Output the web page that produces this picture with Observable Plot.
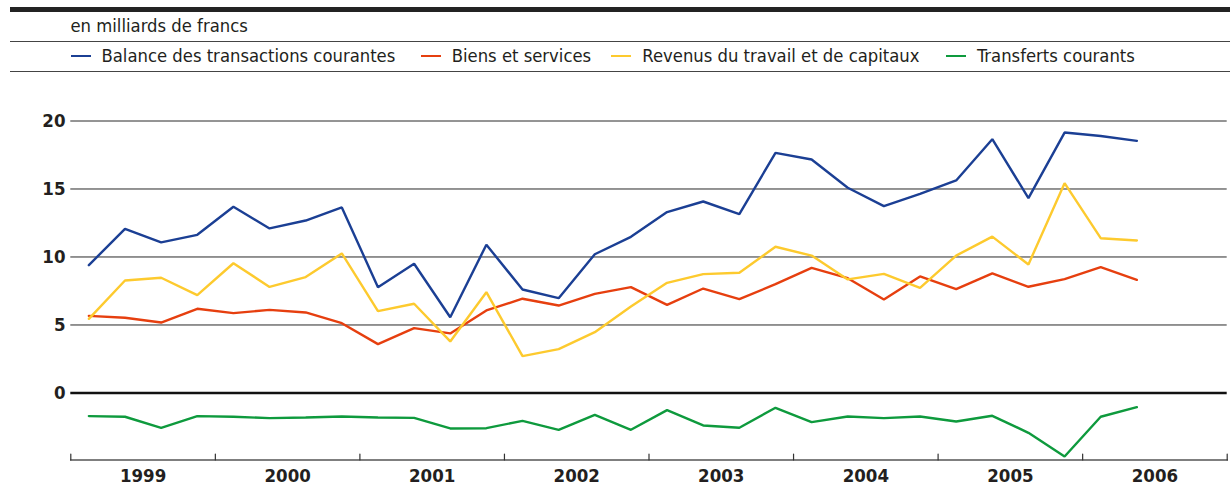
<!DOCTYPE html>
<html>
<head>
<meta charset="utf-8">
<script src="https://cdn.jsdelivr.net/npm/d3@7"></script>
<script src="https://cdn.jsdelivr.net/npm/@observablehq/plot@0.6"></script>
<style>
  html, body { margin: 0; padding: 0; background: #fff; }
  body { width: 1230px; height: 486px; overflow: hidden; font-family: "DejaVu Sans Condensed", "DejaVu Sans", sans-serif; color: #231f20; }
  #header { position: relative; height: 80px; }
  .bar { position: absolute; left: 10px; right: 0; top: 7px; height: 4.5px; background: #232323; }
  .hr { position: absolute; left: 10px; right: 0; height: 1.3px; background: #444; }
  .unit { position: absolute; left: 70.5px; top: 14.5px; font-size: 18.3px; line-height: 22px; }
  .leg { position: absolute; top: 44.5px; font-size: 18.3px; line-height: 22px; white-space: nowrap; }
  .sw { position: absolute; top: 54.8px; width: 20px; height: 2.2px; }
  #chart svg { display: block; }
</style>
</head>
<body>
<div id="header">
  <div class="bar"></div>
  <div class="unit">en milliards de francs</div>
  <div class="hr" style="top:40.5px"></div>
  <div id="legend"></div>
  <div class="hr" style="top:70.5px"></div>
</div>
<div id="chart"></div>
<script>
// Series names and colours
const seriesNames = [
  "Balance des transactions courantes",
  "Biens et services",
  "Revenus du travail et de capitaux",
  "Transferts courants"
];
const seriesColors = ["#1b3f94", "#e63f0f", "#fdca2e", "#0e9a3d"];

// Quarterly data, 1999 T1 to 2006 T2
const startYear = 1999;
const years = [1999, 2000, 2001, 2002, 2003, 2004, 2005, 2006];
const yTicks = [0, 5, 10, 15, 20];

const balance = [
  9.4, 12.07, 11.07, 11.63,
  13.69, 12.1, 12.68, 13.64,
  7.78, 9.5, 5.57, 10.9,
  7.61, 6.97, 10.2, 11.48,
  13.3, 14.08, 13.15, 17.66,
  17.17, 15.09, 13.74, 14.64,
  15.63, 18.66, 14.33, 19.15,
  18.9, 18.54
];
const biens = [
  5.67, 5.53, 5.18, 6.19,
  5.87, 6.11, 5.92, 5.13,
  3.59, 4.77, 4.38, 6.07,
  6.93, 6.43, 7.29, 7.78,
  6.48, 7.68, 6.9, 8.0,
  9.2, 8.44, 6.87, 8.57,
  7.63, 8.79, 7.81, 8.37,
  9.25, 8.32
];
const revenus = [
  5.45, 8.27, 8.47, 7.19,
  9.54, 7.8, 8.52, 10.26,
  6.02, 6.56, 3.79, 7.41,
  2.71, 3.22, 4.47, 6.36,
  8.1, 8.74, 8.84, 10.75,
  10.1, 8.35, 8.76, 7.73,
  10.1, 11.5, 9.45, 15.43,
  11.38, 11.21
];
const transferts = [
  -1.7, -1.75, -2.56, -1.7,
  -1.75, -1.85, -1.8, -1.73,
  -1.8, -1.83, -2.61, -2.59,
  -2.05, -2.71, -1.61, -2.71,
  -1.26, -2.39, -2.56, -1.09,
  -2.14, -1.73, -1.85, -1.73,
  -2.1, -1.68, -2.93, -4.67,
  -1.75, -1.04
];

const seriesValues = [balance, biens, revenus, transferts];

// Long table built from the arrays
const data = [];
seriesValues.forEach((vals, s) => {
  vals.forEach((v, i) => {
    data.push({
      series: seriesNames[s],
      t: startYear + Math.floor(i / 4) + ((i % 4) + 0.5) / 4,
      value: v
    });
  });
});

// Legend (HTML, above the SVG)
const legendX = [70.5, 420.7, 611.3, 946];
const legend = document.getElementById("legend");
seriesNames.forEach((name, i) => {
  const sw = document.createElement("div");
  sw.className = "sw";
  sw.style.left = legendX[i] + "px";
  sw.style.background = seriesColors[i];
  legend.appendChild(sw);
  const t = document.createElement("div");
  t.className = "leg";
  t.style.left = (legendX[i] + 31) + "px";
  t.textContent = name;
  legend.appendChild(t);
});

const yearTicks = years.concat([years[years.length - 1] + 1]);
const tickShape = {draw(context, l) { context.moveTo(0, 0); context.lineTo(0, -l); }};
const font = "DejaVu Sans Condensed, DejaVu Sans, sans-serif";

const chart = Plot.plot({
  width: 1230,
  height: 406,
  marginLeft: 70.3,
  marginRight: 3.3,
  marginTop: 40.5,
  marginBottom: 26.5,
  x: {domain: [1999, 2007], axis: null},
  y: {domain: [-4.93, 20], axis: null},
  color: {domain: seriesNames, range: seriesColors},
  style: {fontFamily: font, color: "#231f20", background: "#fff", overflow: "visible"},
  marks: [
    Plot.ruleY([5, 10, 15, 20], {stroke: "#2a2a2a", strokeWidth: 1}),
    Plot.frame({anchor: "bottom", stroke: "#555", strokeWidth: 1.5}),
    Plot.vector(yearTicks, {x: d => d, frameAnchor: "bottom", length: 6, anchor: "start", shape: tickShape, stroke: "#333", strokeWidth: 1.2}),
    Plot.text(years, {x: d => d + 0.5, frameAnchor: "bottom", lineAnchor: "bottom", dy: 22.2, text: d => String(d), fontWeight: "bold", fontSize: 18.5, fill: "#231f20"}),
    Plot.text(yTicks, {y: d => d, frameAnchor: "left", textAnchor: "end", dx: -5.3, text: d => String(d), fontWeight: "bold", fontSize: 18.5, fill: "#231f20"}),
    Plot.ruleY([0], {stroke: "#111", strokeWidth: 2.6}),
    Plot.line(data, {x: "t", y: "value", z: "series", stroke: "series", strokeWidth: 2.4, strokeLinejoin: "miter"})
  ]
});
document.getElementById("chart").appendChild(chart);
</script>
</body>
</html>
